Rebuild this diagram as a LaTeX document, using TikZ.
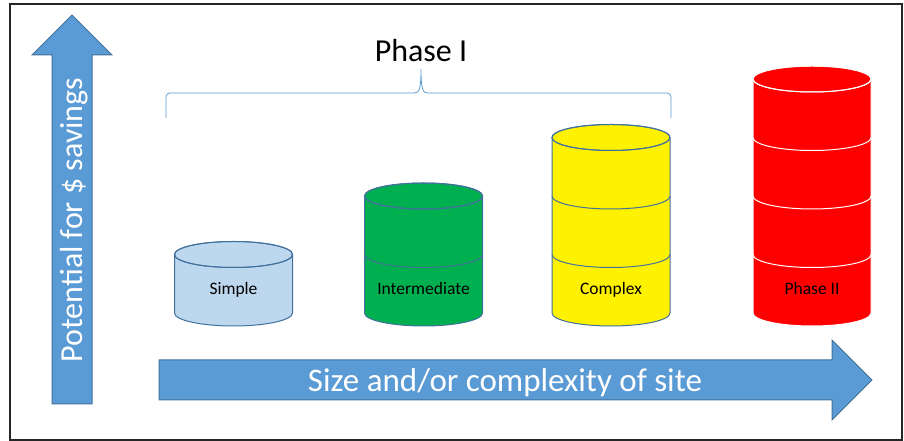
\documentclass[tikz,border=0pt]{standalone}
\usepackage{fontspec}
\setmainfont{Carlito}
\usepackage{tikz}

\definecolor{officeblue}{HTML}{5B9BD5}
\definecolor{officerim}{HTML}{41719C}
\definecolor{paleblue}{HTML}{BDD7EE}
\definecolor{drumgreen}{HTML}{00B050}

% one drum: #1 centre x, #2 number of bands, #3 fill, #4 rim, #5 name, #6 text
\newcommand{\drum}[6]{%
  \pgfmathsetmacro{\drumtop}{128+#2*58.5}
  \filldraw[fill=#3, draw=#4, line width=1pt]
    (#1-59,128) arc[start angle=180, end angle=360, x radius=59, y radius=13]
    -- (#1+59,\drumtop) arc[start angle=0, end angle=180, x radius=59, y radius=13] -- cycle;
  \draw[#4, line width=1pt] (#1,\drumtop) ellipse[x radius=59, y radius=13];
  \foreach \k in {1,...,#2}
    \draw[#4, line width=1pt] (#1-59,128+\k*58.5)
      arc[start angle=180, end angle=360, x radius=59, y radius=13];
  \node[drumtext] (#5) at (#1,146) {#6};
}

\begin{document}
\begin{tikzpicture}[x=1pt, y=1pt,
    bigarrow/.style={fill=officeblue, draw=officerim, line width=1pt},
    arrowtext/.style={text=white, font=\fontsize{32}{32}\selectfont, anchor=base},
    drumtext/.style={font=\fontsize{17.5}{17.5}\selectfont, anchor=base}]
  \useasboundingbox (0,0) rectangle (904,441);
  \draw[black!85, line width=1.6pt] (10,1) rectangle (902,437);

  % --- the two axes as block arrows ---
  \draw[bigarrow] (52,37) -- (92,37) -- (92,386) -- (112,386) -- (72,426)
    -- (32,386) -- (52,386) -- cycle;
  \node[arrowtext, rotate=90] (potential) at (82,221) {Potential for \$ savings};
  \draw[bigarrow] (159,41) -- (832,41) -- (832,21) -- (872,61) -- (832,101)
    -- (832,81) -- (159,81) -- cycle;
  \node[arrowtext, font=\fontsize{33}{33}\selectfont] (size) at (505,49)
    {Size and/or complexity of site};

  % --- brace over the first three drums ---
  \draw[officeblue, line width=0.8pt, rounded corners=4pt]
    (166,323) -- (166,348) -- (414,348);
  \draw[officeblue, line width=0.8pt] (414,348)
    .. controls (419,348) and (421,351) .. (421,372)
    .. controls (421,351) and (423,348) .. (428,348);
  \draw[officeblue, line width=0.8pt, rounded corners=4pt]
    (428,348) -- (671,348) -- (671,323);
  \node[font=\fontsize{32}{32}\selectfont, anchor=base] (phase) at (421,379) {Phase I};

  % --- the drums ---
  \drum{233.5}{1}{paleblue}{officerim}{simple}{Simple}
  \drum{423.5}{2}{drumgreen}{officerim}{intermediate}{Intermediate}
  \drum{611}{3}{yellow}{officerim}{complex}{Complex}
  \drum{812}{4}{red}{white}{phasetwo}{Phase II}
\end{tikzpicture}
\end{document}
